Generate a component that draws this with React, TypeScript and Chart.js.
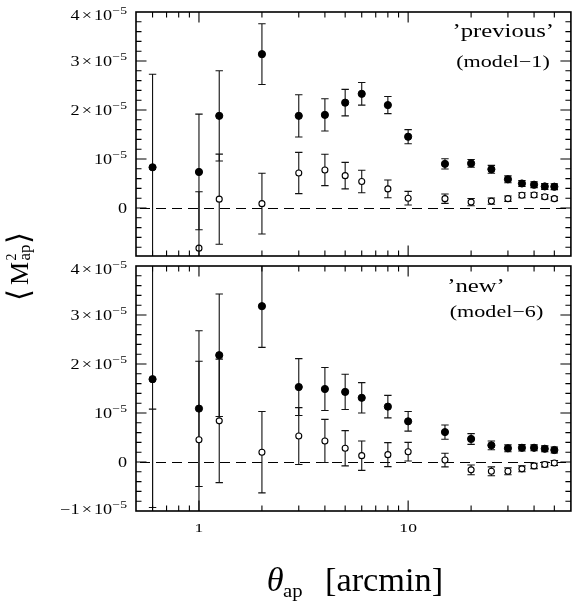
import React, { useEffect, useRef } from 'react';
import { Chart, registerables } from 'chart.js';

Chart.register(...registerables);

const UNIT = 1e-5;
const thetaAp = [0.6, 1, 1.25, 2, 3, 4, 5, 6, 8, 10, 15, 20, 25, 30, 35, 40, 45, 50];

// 'previous' (model-1) panel — values in units of 1e-5
const prevFilled = [0.83, 0.735, 1.88, 3.14, 1.88, 1.9, 2.15, 2.33, 2.1, 1.455, 0.9, 0.91, 0.79, 0.585, 0.5, 0.475, 0.44, 0.435];
const prevFilledErr = [1.9, 1.18, 0.92, 0.62, 0.43, 0.33, 0.27, 0.23, 0.175, 0.145, 0.105, 0.08, 0.08, 0.07, 0.06, 0.06, 0.06, 0.06];
const prevOpen = [null, -0.82, 0.18, 0.088, 0.714, 0.776, 0.66, 0.54, 0.39, 0.2, 0.19, 0.12, 0.14, 0.19, 0.26, 0.265, 0.23, 0.19];
const prevOpenErr = [null, 1.15, 0.92, 0.62, 0.42, 0.32, 0.27, 0.23, 0.18, 0.14, 0.095, 0.075, 0.065, 0.055, 0.05, 0.045, 0.045, 0.04];

// 'new' (model-6) panel — values in units of 1e-5
const newFilled = [1.69, 1.09, 2.18, 3.18, 1.53, 1.49, 1.43, 1.31, 1.13, 0.83, 0.61, 0.47, 0.34, 0.28, 0.29, 0.29, 0.27, 0.245];
const newFilledErr = [2.62, 1.59, 1.25, 0.84, 0.58, 0.44, 0.36, 0.31, 0.23, 0.2, 0.145, 0.11, 0.09, 0.07, 0.065, 0.06, 0.06, 0.06];
const newOpen = [-1.5, 0.455, 0.84, 0.2, 0.53, 0.43, 0.28, 0.13, 0.15, 0.21, 0.04, -0.16, -0.19, -0.19, -0.14, -0.08, -0.05, -0.02];
const newOpenErr = [2.58, 1.6, 1.26, 0.83, 0.58, 0.44, 0.36, 0.3, 0.245, 0.19, 0.14, 0.1, 0.09, 0.07, 0.06, 0.055, 0.05, 0.05];

const xTickLabels = [1, 10];
const yTicksTop = [0, 1, 2, 3, 4];
const yTicksBottom = [-1, 0, 1, 2, 3, 4];
const topLabels = ['\u2019previous\u2019', '(model\u22121)'];
const bottomLabels = ['\u2019new\u2019', '(model\u22126)'];
const xTitleMain = '\u03B8';
const xTitleSub = 'ap';
const xTitleUnit = '[arcmin]';

const SERIF = '"Liberation Serif", "DejaVu Serif", serif';

function points(vals: (number | null)[], errs: (number | null)[]) {
  const out: { x: number; y: number; err: number }[] = [];
  vals.forEach((v, i) => {
    if (v == null) return;
    out.push({ x: thetaAp[i], y: v * UNIT, err: (errs[i] as number) * UNIT });
  });
  return out;
}

function drawText(ctx: CanvasRenderingContext2D, s: string, x: number, y: number, size: number, align: string, S = 1.3, style = '') {
  ctx.save();
  ctx.font = `${style}${size}px ${SERIF}`;
  const w = ctx.measureText(s).width * S;
  const x0 = align === 'left' ? x : align === 'right' ? x - w : x - w / 2;
  ctx.translate(x0, y);
  ctx.scale(S, 1);
  ctx.textAlign = 'left';
  ctx.textBaseline = 'alphabetic';
  ctx.fillStyle = '#000';
  ctx.fillText(s, 0, 0);
  ctx.restore();
  return w;
}

function drawSci(ctx: CanvasRenderingContext2D, v: number, xr: number, yc: number) {
  const S = 1.3;
  const base = 14;
  const sup = 10.5;
  const baseY = yc + 4.7;
  const pieces: { t: string; f: number; dy: number; pl: number; pr: number }[] = [];
  if (v === 0) {
    pieces.push({ t: '0', f: base, dy: 0, pl: 0, pr: 0 });
  } else {
    if (v !== 1) {
      pieces.push({ t: (v < 0 ? '\u2212' : '') + Math.abs(v), f: base, dy: 0, pl: 0, pr: 0 });
      pieces.push({ t: '\u00D7', f: base, dy: 0, pl: 1.5, pr: 1.5 });
    }
    pieces.push({ t: '10', f: base, dy: 0, pl: 0, pr: 0 });
    pieces.push({ t: '\u22125', f: sup, dy: -5.5, pl: 0.3, pr: 0 });
  }
  ctx.save();
  ctx.fillStyle = '#000';
  ctx.textAlign = 'left';
  ctx.textBaseline = 'alphabetic';
  let total = 0;
  const ws = pieces.map((p) => {
    ctx.font = `${p.f}px ${SERIF}`;
    const w = ctx.measureText(p.t).width + p.pl + p.pr;
    total += w;
    return w;
  });
  ctx.translate(xr, baseY);
  ctx.scale(S, 1);
  let x = -total;
  pieces.forEach((p, i) => {
    ctx.font = `${p.f}px ${SERIF}`;
    ctx.fillText(p.t, x + p.pl, p.dy);
    x += ws[i];
  });
  ctx.restore();
}

const xTickValues: number[] = [];
for (const d of [0.1, 1, 10]) for (let k = 1; k <= 9; k++) xTickValues.push(+(k * d).toFixed(2));

const panelPlugin = {
  id: 'panelPlugin',
  beforeDatasetsDraw(chart: any) {
    const ctx: CanvasRenderingContext2D = chart.ctx;
    const area = chart.chartArea;
    const xs = chart.scales.x;
    for (const id of ['yTop', 'yBot']) {
      const ys = chart.scales[id];
      ctx.save();
      ctx.beginPath();
      ctx.rect(area.left, ys.top, area.right - area.left, ys.bottom - ys.top);
      ctx.clip();
      ctx.strokeStyle = '#000';
      ctx.lineWidth = 1;
      ctx.setLineDash([10, 6]);
      const y0 = Math.round(ys.getPixelForValue(0)) + 0.5;
      ctx.beginPath();
      ctx.moveTo(area.left + 4, y0);
      ctx.lineTo(area.right, y0);
      ctx.stroke();
      ctx.setLineDash([]);
      ctx.strokeStyle = '#111';
      ctx.lineWidth = 1.1;
      chart.data.datasets.forEach((ds: any) => {
        if (ds.yAxisID !== id) return;
        ds.data.forEach((p: any) => {
          const x = xs.getPixelForValue(p.x);
          const y1 = ys.getPixelForValue(p.y - p.err);
          const y2 = ys.getPixelForValue(p.y + p.err);
          ctx.beginPath();
          ctx.moveTo(x, y1);
          ctx.lineTo(x, y2);
          ctx.moveTo(x - 3.7, y1);
          ctx.lineTo(x + 3.7, y1);
          ctx.moveTo(x - 3.7, y2);
          ctx.lineTo(x + 3.7, y2);
          ctx.stroke();
        });
      });
      ctx.restore();
    }
  },
  afterDraw(chart: any) {
    const ctx: CanvasRenderingContext2D = chart.ctx;
    const area = chart.chartArea;
    const xs = chart.scales.x;
    const L = area.left;
    const R = area.right;
    const panels = [
      { id: 'yTop', ticks: yTicksTop, labels: topLabels },
      { id: 'yBot', ticks: yTicksBottom, labels: bottomLabels },
    ];
    panels.forEach((pn, pi) => {
      const ys = chart.scales[pn.id];
      const T = ys.top;
      const B = ys.bottom;
      ctx.save();
      ctx.strokeStyle = '#000';
      ctx.lineWidth = 1.1;
      ctx.beginPath();
      for (const v of xTickValues) {
        const px = xs.getPixelForValue(v);
        if (px <= L + 1 || px >= R - 1) continue;
        const len = xTickLabels.includes(v) ? 10.5 : 5.5;
        ctx.moveTo(px, T);
        ctx.lineTo(px, T + len);
        ctx.moveTo(px, B);
        ctx.lineTo(px, B - len);
      }
      const minK = Math.ceil(ys.min / UNIT / 0.2 - 1e-6);
      const maxK = Math.floor(ys.max / UNIT / 0.2 + 1e-6);
      for (let k = minK; k <= maxK; k++) {
        const py = ys.getPixelForValue(k * 0.2 * UNIT);
        if (py <= T + 1 || py >= B - 1) continue;
        const len = k % 5 === 0 ? 10.5 : 5.5;
        ctx.moveTo(L, py);
        ctx.lineTo(L + len, py);
        ctx.moveTo(R, py);
        ctx.lineTo(R - len, py);
      }
      ctx.stroke();
      ctx.lineWidth = 1.6;
      ctx.strokeRect(L, T, R - L, B - T);
      ctx.restore();

      // y tick labels
      const tmin = Math.min(...pn.ticks);
      const tmax = Math.max(...pn.ticks);
      pn.ticks.forEach((v) => {
        let py = ys.getPixelForValue(v * UNIT);
        if (v === tmax) py += 3;
        if (v === tmin && v < 0) py -= 2;
        drawSci(ctx, v, L - 9, py);
      });

      // panel labels
      if (pi === 0) {
        drawText(ctx, pn.labels[0], 554, T + 24.7, 19, 'right');
        drawText(ctx, pn.labels[1], 503, T + 55, 17, 'center');
      } else {
        drawText(ctx, pn.labels[0], 476, T + 25.7, 19, 'center');
        drawText(ctx, pn.labels[1], 496.5, T + 50.5, 17, 'center');
      }
    });

    // x tick labels
    xTickLabels.forEach((v) => {
      drawText(ctx, String(v), xs.getPixelForValue(v), area.bottom + 20.5, 13.5, 'center');
    });

    // x title
    drawText(ctx, xTitleMain, 266.7, 591, 33, 'left', 1.04, 'italic ');
    drawText(ctx, xTitleSub, 283, 596.5, 18, 'left', 1.15);
    drawText(ctx, xTitleUnit, 325, 591, 33, 'left', 1.04);

    // y title, rotated
    ctx.save();
    ctx.translate(28, 299);
    ctx.rotate(-Math.PI / 2);
    ctx.fillStyle = '#000';
    ctx.textBaseline = 'alphabetic';
    ctx.textAlign = 'left';
    ctx.font = '31px "DejaVu Serif", serif';
    ctx.fillText('\u27E8', -2, 1);
    ctx.font = `26px ${SERIF}`;
    ctx.fillText('M', 14, 0);
    ctx.font = `14px ${SERIF}`;
    ctx.fillText('2', 38.5, -12);
    ctx.font = `17px ${SERIF}`;
    ctx.fillText('ap', 38.5, 2);
    ctx.font = '31px "DejaVu Serif", serif';
    ctx.fillText('\u27E9', 55, 1);
    ctx.restore();
  },
};

export default function App() {
  const ref = useRef<HTMLCanvasElement | null>(null);
  useEffect(() => {
    if (!ref.current) return;
    const openStyle = { pointRadius: 3, pointBackgroundColor: '#fff', pointBorderColor: '#000', pointBorderWidth: 1.1, showLine: false };
    const filledStyle = { pointRadius: 3.6, pointBackgroundColor: '#000', pointBorderColor: '#000', pointBorderWidth: 1, showLine: false };
    const hiddenY = {
      type: 'linear',
      position: 'left',
      stack: 'panels',
      grid: { display: false },
      border: { display: false },
      ticks: { display: false },
      afterFit: (s: any) => { s.width = 136; },
    };
    const chart = new Chart(ref.current, {
      type: 'scatter',
      data: {
        datasets: [
          { label: 'previous open', data: points(prevOpen, prevOpenErr), yAxisID: 'yTop', ...openStyle },
          { label: 'previous filled', data: points(prevFilled, prevFilledErr), yAxisID: 'yTop', ...filledStyle },
          { label: 'new open', data: points(newOpen, newOpenErr), yAxisID: 'yBot', ...openStyle },
          { label: 'new filled', data: points(newFilled, newFilledErr), yAxisID: 'yBot', ...filledStyle },
        ] as any,
      },
      options: {
        animation: false,
        responsive: false,
        maintainAspectRatio: false,
        events: [],
        layout: { padding: { top: 12, right: 4, bottom: 0, left: 0 } },
        plugins: { legend: { display: false }, tooltip: { enabled: false }, title: { display: false } },
        scales: {
          x: {
            type: 'logarithmic',
            position: 'bottom',
            min: 0.5,
            max: 60,
            grid: { display: false },
            border: { display: false },
            ticks: { display: false },
            afterFit: (s: any) => { s.height = 92; },
          },
          yBot: { ...hiddenY, stackWeight: 245, min: -1 * UNIT, max: 4 * UNIT },
          yGap: { ...hiddenY, stackWeight: 10, min: 0, max: 1 },
          yTop: { ...hiddenY, stackWeight: 244, min: -0.98 * UNIT, max: 4 * UNIT },
        } as any,
      },
      plugins: [panelPlugin],
    });
    return () => chart.destroy();
  }, []);
  return (
    <div style={{ position: 'absolute', left: 0, top: 0, width: 576, height: 603, background: '#fff' }}>
      <canvas ref={ref} width={576} height={603} style={{ display: 'block', width: 576, height: 603 }} />
    </div>
  );
}
